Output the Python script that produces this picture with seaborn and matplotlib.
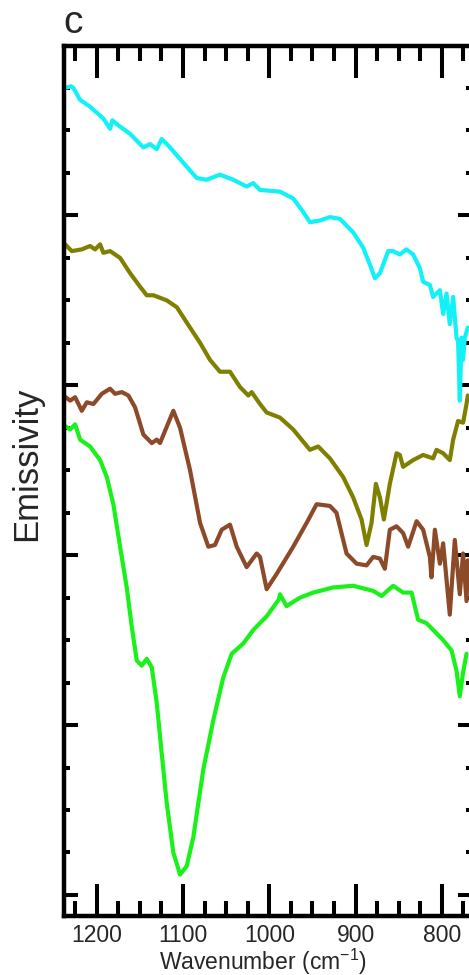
import matplotlib
matplotlib.use("Agg")
import matplotlib.pyplot as plt
from matplotlib.ticker import MultipleLocator
import pandas as pd
import seaborn as sns

# Emission spectra (wavenumber in cm^-1, emissivity offset for clarity)
cyan_wn = [1236.7, 1230.0, 1227.1, 1219.3, 1207.8, 1192.4, 1184.6, 1182.0, 1175.0, 1161.4,
           1146.0, 1138.3, 1130.5, 1124.7, 1115.1, 1099.7, 1084.2, 1072.6, 1057.2, 1041.8,
           1026.3, 1018.6, 1010.8, 987.7, 972.3, 960.7, 952.9, 941.4, 929.8, 918.2,
           902.8, 891.2, 883.4, 877.6, 871.8, 862.2, 856.5, 848.7, 841.0, 833.3,
           825.5, 821.7, 813.9, 810.1, 802.3, 798.5, 794.6, 790.8, 786.9, 783.0,
           781.2, 779.2, 777.2, 775.4, 773.4, 769.9]
cyan_em = [0.975, 0.976, 0.975, 0.968, 0.964, 0.957, 0.951, 0.956, 0.953, 0.948,
           0.940, 0.942, 0.939, 0.945, 0.940, 0.931, 0.922, 0.921, 0.924, 0.921,
           0.917, 0.919, 0.915, 0.914, 0.910, 0.902, 0.896, 0.897, 0.899, 0.898,
           0.890, 0.881, 0.871, 0.863, 0.866, 0.879, 0.879, 0.877, 0.880, 0.877,
           0.869, 0.861, 0.859, 0.852, 0.856, 0.842, 0.854, 0.836, 0.852, 0.828,
           0.826, 0.791, 0.828, 0.815, 0.828, 0.834]

olive_wn = [1238.7, 1229.0, 1217.4, 1207.8, 1202.0, 1196.2, 1192.4, 1184.6, 1173.0, 1161.4,
            1149.8, 1142.1, 1134.4, 1118.9, 1107.3, 1095.8, 1080.3, 1068.8, 1057.2, 1045.6,
            1034.0, 1024.4, 1020.5, 1010.8, 1003.1, 987.7, 972.3, 952.9, 943.4, 929.8,
            914.4, 902.8, 893.1, 887.3, 881.5, 876.5, 871.8, 867.2, 860.3, 852.5,
            848.7, 844.9, 833.3, 821.7, 810.1, 806.2, 798.5, 790.8, 786.9, 781.2,
            775.4, 771.4, 769.9]
olive_em = [0.884, 0.879, 0.880, 0.882, 0.880, 0.883, 0.878, 0.879, 0.875, 0.866,
            0.858, 0.853, 0.853, 0.850, 0.846, 0.837, 0.825, 0.815, 0.808, 0.808,
            0.799, 0.794, 0.796, 0.789, 0.784, 0.781, 0.774, 0.762, 0.764, 0.757,
            0.746, 0.734, 0.721, 0.706, 0.719, 0.742, 0.734, 0.721, 0.742, 0.760,
            0.759, 0.752, 0.756, 0.759, 0.757, 0.762, 0.760, 0.756, 0.768, 0.779,
            0.778, 0.789, 0.794]

brown_wn = [1238.7, 1230.9, 1225.1, 1217.4, 1211.6, 1203.9, 1194.2, 1184.6, 1178.8, 1171.0,
            1163.4, 1155.6, 1146.0, 1136.3, 1130.5, 1126.7, 1111.3, 1103.5, 1091.9, 1080.3,
            1070.7, 1063.0, 1055.2, 1045.6, 1037.8, 1026.3, 1014.7, 1010.8, 1003.1, 991.5,
            972.3, 956.8, 945.2, 929.8, 922.2, 910.5, 898.8, 887.3, 879.6, 871.8,
            866.1, 860.3, 852.5, 844.9, 839.1, 829.3, 821.7, 813.9, 812.0, 808.1,
            802.3, 798.5, 790.8, 785.0, 779.2, 775.4, 771.4, 769.9]
brown_em = [0.794, 0.791, 0.793, 0.785, 0.790, 0.789, 0.795, 0.798, 0.795, 0.796,
            0.794, 0.787, 0.771, 0.766, 0.768, 0.766, 0.785, 0.775, 0.750, 0.719,
            0.705, 0.706, 0.715, 0.718, 0.705, 0.693, 0.701, 0.699, 0.680, 0.689,
            0.705, 0.719, 0.730, 0.729, 0.725, 0.701, 0.695, 0.694, 0.699, 0.698,
            0.692, 0.715, 0.717, 0.713, 0.705, 0.720, 0.715, 0.699, 0.687, 0.715,
            0.695, 0.707, 0.665, 0.709, 0.677, 0.701, 0.673, 0.697]

green_wn = [1236.7, 1230.9, 1225.1, 1219.3, 1207.8, 1196.2, 1188.4, 1180.8, 1173.0, 1165.3,
            1159.5, 1153.7, 1147.9, 1142.1, 1136.3, 1130.5, 1124.7, 1118.9, 1111.3, 1103.5,
            1095.8, 1088.1, 1076.5, 1064.9, 1053.4, 1043.6, 1030.2, 1018.6, 1003.1, 988.9,
            987.7, 980.0, 964.5, 949.1, 926.1, 902.8, 879.6, 869.9, 856.5, 844.9,
            835.1, 827.5, 817.8, 806.2, 798.5, 788.8, 783.0, 779.2, 775.4, 771.4]
green_em = [0.776, 0.774, 0.777, 0.768, 0.764, 0.756, 0.746, 0.730, 0.705, 0.681,
            0.658, 0.638, 0.635, 0.639, 0.634, 0.613, 0.583, 0.554, 0.525, 0.512,
            0.517, 0.534, 0.574, 0.603, 0.628, 0.642, 0.648, 0.656, 0.664, 0.674,
            0.677, 0.670, 0.675, 0.678, 0.681, 0.682, 0.679, 0.676, 0.682, 0.678,
            0.678, 0.662, 0.660, 0.654, 0.650, 0.644, 0.632, 0.617, 0.631, 0.642]

samples = ["cyan", "olive", "brown", "green"]
colors = {"cyan": "#12F0F8", "olive": "#808000", "brown": "#8C4A28", "green": "#1AF01A"}

frames = []
for name, wn, em in [("cyan", cyan_wn, cyan_em), ("olive", olive_wn, olive_em),
                     ("brown", brown_wn, brown_em), ("green", green_wn, green_em)]:
    frames.append(pd.DataFrame({"wavenumber": wn, "emissivity": em, "sample": name}))
df = pd.concat(frames, ignore_index=True)

sns.set_style("white")
plt.rcParams["font.family"] = ["Liberation Sans", "DejaVu Sans"]
plt.rcParams["mathtext.default"] = "regular"

fig = plt.figure(figsize=(4.69, 9.75), dpi=100)
ax = fig.add_axes([0.1365, 0.0610, 0.87, 0.8923])

sns.lineplot(data=df, x="wavenumber", y="emissivity", hue="sample", hue_order=samples,
             palette=colors, estimator=None, sort=False, linewidth=3.0,
             legend=False, ax=ax)

ax.set_xlim(1238, 765)
ax.set_ylim(0.4879, 1.0)
ax.xaxis.set_major_locator(MultipleLocator(100))
ax.xaxis.set_minor_locator(MultipleLocator(25))
ax.yaxis.set_major_locator(MultipleLocator(0.1))
ax.yaxis.set_minor_locator(MultipleLocator(0.025))

ax.tick_params(axis="x", which="both", direction="in", top=True, bottom=True,
               width=2.9, color="black", labelsize=16.5, pad=6)
ax.tick_params(axis="x", which="major", length=23)
ax.tick_params(axis="x", which="minor", length=11)
ax.tick_params(axis="y", which="both", direction="in", left=True, right=True,
               labelleft=False, width=2.9, color="black")
ax.tick_params(axis="y", which="major", length=10)
ax.tick_params(axis="y", which="minor", length=4.5)
for spine in ax.spines.values():
    spine.set_linewidth(3.2)
    spine.set_color("black")

ax.set_xlabel("Wavenumber (cm$^{-1}$)", fontsize=16.5)
ax.xaxis.set_label_coords(0.488, -0.0355)
ax.set_ylabel("Emissivity", fontsize=25)
ax.yaxis.set_label_coords(-0.0515, 0.519)

fig.text(63 / 469, (975 - 33) / 975, "c", fontsize=28, ha="left", va="baseline")

fig.savefig("out.png", dpi=100, facecolor="white")
